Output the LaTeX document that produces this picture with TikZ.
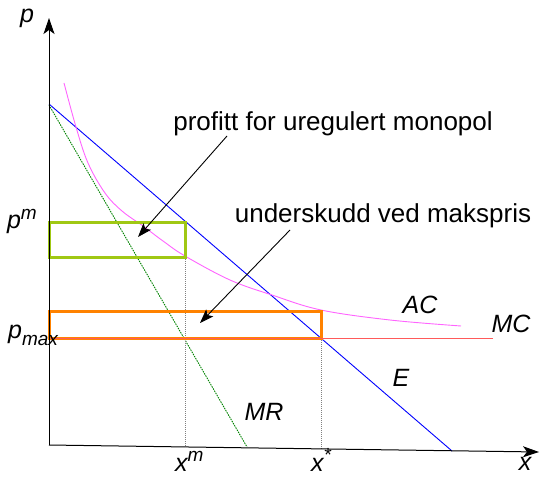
\documentclass[tikz,border=0pt]{standalone}
\usepackage{fontspec}
\setmainfont{Liberation Sans}
\usetikzlibrary{arrows.meta}
\definecolor{demandblue}{RGB}{0,0,255}
\definecolor{mrgreen}{RGB}{0,130,0}
\definecolor{acpink}{RGB}{255,100,255}
\definecolor{mcred}{RGB}{255,90,90}
\definecolor{rectgreen}{RGB}{160,200,20}
\definecolor{rectorange}{RGB}{255,130,0}
\tikzset{
  axisline/.style={black, line width=1pt, -{Stealth[length=16pt,width=11pt,inset=4pt]}},
  demand/.style={demandblue, line width=0.9pt},
  mrline/.style={mrgreen, line width=0.9pt, dash pattern=on 1.5pt off 1pt},
  acline/.style={acpink, line width=0.9pt},
  mcline/.style={mcred, line width=1pt},
  guide/.style={gray, line width=0.8pt, dash pattern=on 1pt off 1pt},
  profitbox/.style={rectgreen, line width=3pt},
  lossbox/.style={rectorange, line width=3pt},
  pointer/.style={black, line width=0.9pt, -{Stealth[length=14pt,width=10pt,inset=3pt]}},
  txt/.style={font=\fontsize{26}{30}\selectfont, inner sep=0pt},
  lab/.style={font=\fontsize{25}{28}\selectfont\itshape, inner sep=0pt, anchor=base},
}
\newcommand{\scriptit}[1]{{\fontsize{19}{21}\selectfont\itshape #1}}
\begin{document}
\begin{tikzpicture}[x=1pt,y=-1pt]
\useasboundingbox (0,0) rectangle (540,476);
% axes
\coordinate (O) at (49,445);
\coordinate (ytop) at (49,18);
\coordinate (xend) at (539,452);
% curves
\draw[demand] (49,104) -- (452,451);
\draw[mrline] (49,105) -- (247,447);
\draw[acline] plot[smooth, tension=0.6] coordinates {(64,83) (76,127) (88,163) (105,193) (122,211) (143,226) (163,241) (185,256) (230,280) (272,295) (321,310) (390,320) (461,326)};
% guides
\draw[guide] (185,257) -- (185,447);
\draw[guide] (321,338) -- (321,449);
% boxes
\draw[profitbox] (49,222) rectangle (185,257);
\draw[lossbox] (49,311) rectangle (321,338);
\draw[mcline] (49,338) -- (493,338);
% axes on top
\draw[axisline] (O) -- (ytop);
\draw[axisline] (O) -- (xend);
% labels
\node[lab] (lp) at (27,23) {p};
\node[lab] (lx) at (525,470) {x};
\node[lab, anchor=base east] (lpm) at (37,228) {p\raisebox{9pt}{\scriptit{m}}};
\node[lab, anchor=base west] (lpmax) at (8,338) {p\raisebox{-7pt}{\scriptit{max}}};
\node[lab, anchor=base west] (lxm) at (175,471) {x\raisebox{10pt}{\scriptit{m}}};
\node[lab, anchor=base west] (lxs) at (311,471) {x\raisebox{10pt}{\scriptit{*}}};
\node[lab] (lac) at (420,313) {AC};
\node[lab] (lmc) at (511,332) {MC};
\node[lab] (le) at (401,386) {E};
\node[lab] (lmr) at (264,420) {MR};
% texts and pointers
\node[txt] (t1) at (333,124) {profitt for uregulert monopol};
\node[txt] (t2) at (383,216) {underskudd ved makspris};
\coordinate (a1s) at (227,136);
\coordinate (a1e) at (138,237);
\coordinate (a2s) at (290,230);
\coordinate (a2e) at (200,323);
\draw[pointer] (a1s) -- (a1e);
\draw[pointer] (a2s) -- (a2e);
\end{tikzpicture}
\end{document}
